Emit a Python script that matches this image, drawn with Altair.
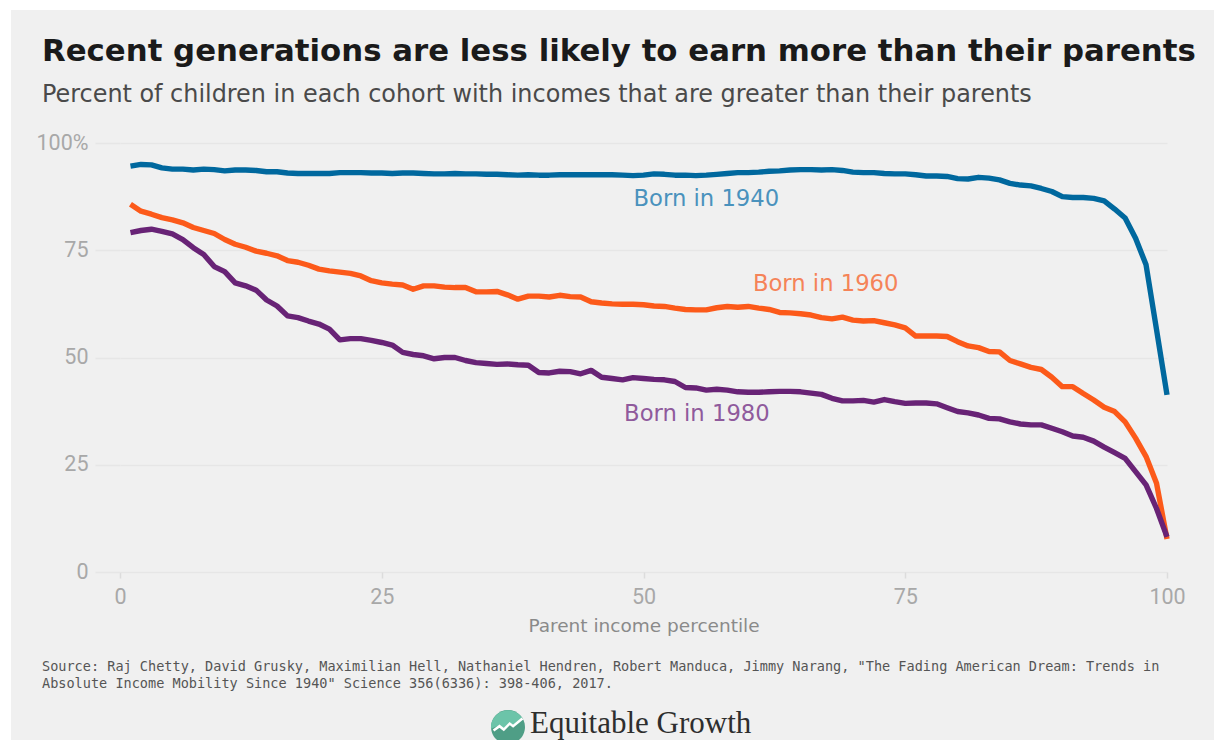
import altair as alt
import pandas as pd

percentile = list(range(1, 101))
born_1940 = [94.6,95.0,94.9,94.2,93.9,93.9,93.7,93.9,93.8,93.5,
 93.7,93.7,93.6,93.3,93.3,93.0,92.9,92.9,92.9,92.9,
 93.1,93.1,93.1,93.0,93.0,92.9,93.0,93.0,92.9,92.8,
 92.8,92.9,92.8,92.8,92.7,92.7,92.6,92.5,92.6,92.5,
 92.5,92.6,92.6,92.6,92.6,92.6,92.6,92.5,92.4,92.5,
 92.8,92.7,92.5,92.5,92.4,92.5,92.7,92.9,93.1,93.1,
 93.2,93.4,93.5,93.7,93.8,93.8,93.7,93.8,93.6,93.2,
 93.1,93.1,92.9,92.8,92.8,92.6,92.3,92.3,92.2,91.7,
 91.6,92.0,91.8,91.4,90.6,90.2,90.0,89.4,88.7,87.5,
 87.3,87.3,87.1,86.5,84.6,82.5,77.8,71.6,56.5,41.3]
born_1960 = [85.7,84.1,83.4,82.6,82.1,81.4,80.3,79.6,78.9,77.5,
 76.4,75.7,74.8,74.3,73.7,72.6,72.2,71.5,70.6,70.2,
 69.9,69.6,69.0,67.9,67.4,67.1,66.9,65.9,66.7,66.7,
 66.4,66.3,66.3,65.3,65.3,65.4,64.6,63.6,64.3,64.3,
 64.1,64.5,64.2,64.1,63.0,62.7,62.5,62.4,62.4,62.3,
 62.0,61.9,61.5,61.2,61.1,61.1,61.6,61.9,61.7,61.9,
 61.5,61.2,60.5,60.4,60.2,59.9,59.3,59.0,59.4,58.7,
 58.5,58.6,58.1,57.6,56.9,55.0,55.0,55.0,54.9,53.7,
 52.7,52.3,51.4,51.3,49.3,48.5,47.7,47.2,45.4,43.2,
 43.2,41.6,40.1,38.4,37.4,35.0,31.2,26.9,20.7,7.7]
born_1980 = [79.1,79.6,79.9,79.4,78.8,77.5,75.6,74.0,71.2,70.0,
 67.4,66.7,65.7,63.4,62.0,59.7,59.3,58.5,57.8,56.6,
 54.1,54.4,54.4,54.0,53.5,52.9,51.2,50.7,50.4,49.7,
 50.0,50.0,49.3,48.8,48.6,48.4,48.5,48.3,48.2,46.5,
 46.4,46.8,46.7,46.2,47.0,45.4,45.1,44.8,45.3,45.1,
 44.9,44.8,44.4,43.0,42.9,42.4,42.6,42.4,42.0,41.9,
 41.9,42.0,42.1,42.1,42.0,41.7,41.4,40.5,39.9,39.9,
 40.0,39.6,40.2,39.7,39.3,39.4,39.4,39.2,38.3,37.4,
 37.1,36.6,35.8,35.7,35.0,34.5,34.3,34.3,33.5,32.7,
 31.7,31.4,30.5,29.1,27.8,26.5,23.4,20.3,14.8,8.2]

cohorts = ["Born in 1940", "Born in 1960", "Born in 1980"]
line_colors = ["#00689e", "#fc5a1a", "#682376"]
text_colors = ["#4a92bd", "#f58358", "#8f5a9c"]
label_x = [56.0, 67.4, 55.1]
label_y = [87.0, 67.2, 36.9]

title_text = "Recent generations are less likely to earn more than their parents"
subtitle_text = "Percent of children in each cohort with incomes that are greater than their parents"
source_1 = 'Source: Raj Chetty, David Grusky, Maximilian Hell, Nathaniel Hendren, Robert Manduca, Jimmy Narang, "The Fading American Dream: Trends in'
source_2 = 'Absolute Income Mobility Since 1940" Science 356(6336): 398-406, 2017.'
logo_text = "Equitable Growth"

W, H = 1047, 429
PAD_L, PAD_T = 112, 135
BG = "#f0f0f0"
GRID = "#e6e6e6"

df = pd.DataFrame({"percentile": percentile * 3,
                   "share": born_1940 + born_1960 + born_1980,
                   "cohort": sum([[c] * 100 for c in cohorts], [])})
labels = pd.DataFrame({"cohort": cohorts, "x": label_x, "y": label_y, "tc": text_colors})

x_scale = alt.Scale(domain=[0, 100], nice=False)
y_scale = alt.Scale(domain=[0, 100], nice=False)
color_scale = alt.Scale(domain=cohorts, range=line_colors)

lines = alt.Chart(df).mark_line(strokeWidth=5.4, strokeJoin="round", strokeCap="butt").encode(
    x=alt.X("percentile:Q", scale=x_scale, title="Parent income percentile",
            axis=alt.Axis(values=[0, 25, 50, 75, 100], grid=False, domain=False, labelFlush=False,
                          tickColor="#dcdcdc", tickSize=6, tickWidth=1.5, labelFont="Roboto",
                          labelFontSize=21.5, labelColor="#a8a8a8", labelPadding=8,
                          titleFont="DejaVu Sans", titleFontSize=18.5, titleFontWeight="normal",
                          titleColor="#8a8a8a", titlePadding=9)),
    y=alt.Y("share:Q", scale=y_scale, title=None,
            axis=alt.Axis(values=[0, 25, 50, 75, 100], grid=True, gridColor=GRID, gridWidth=1.5,
                          domain=False, tickColor=GRID, tickSize=25, tickWidth=1.5, labelFlush=False,
                          labelFont="Roboto", labelFontSize=21.5, labelColor="#a8a8a8", labelPadding=7,
                          labelExpr="datum.value == 100 ? '100%' : datum.label")),
    color=alt.Color("cohort:N", scale=color_scale, legend=None),
    detail="cohort:N",
)

label_marks = alt.Chart(labels).mark_text(font="DejaVu Sans", fontSize=22.7, baseline="middle", align="center").encode(
    x=alt.X("x:Q", scale=x_scale),
    y=alt.Y("y:Q", scale=y_scale),
    text="cohort:N",
    color=alt.Color("tc:N", scale=None, legend=None),
)

def page_text(t, px, py, **kw):
    return alt.Chart(pd.DataFrame({"t": [t]})).mark_text(align="left", baseline="alphabetic", **kw).encode(
        x=alt.value(px - PAD_L - 8), y=alt.value(py - PAD_T - 8), text="t:N")

def page_shape(path, px, py, size, **kw):
    return alt.Chart(pd.DataFrame({"a": [0]})).mark_point(shape=path, size=size, **kw).encode(
        x=alt.value(px - PAD_L - 8), y=alt.value(py - PAD_T - 8))

def white_strip(x1, x2, y1, y2):
    return alt.Chart(pd.DataFrame({"a": [0]})).mark_rect(color="white").encode(
        x=alt.value(x1 - PAD_L - 8), x2=alt.value(x2 - PAD_L - 8),
        y=alt.value(y1 - PAD_T - 8), y2=alt.value(y2 - PAD_T - 8))

strips = white_strip(8, 11, 8, 740) + white_strip(8, 1222, 8, 10)

title = page_text(title_text, 42, 61, font="DejaVu Sans", fontSize=30.8, fontWeight="bold", color="#1a1a1a")
subtitle = page_text(subtitle_text, 42, 102, font="DejaVu Sans", fontSize=23.9, color="#4a4a4a")
src1 = page_text(source_1, 42, 671, font="DejaVu Sans Mono", fontSize=13.55, color="#555555")
src2 = page_text(source_2, 42, 688, font="DejaVu Sans Mono", fontSize=13.55, color="#555555")
logo = page_text(logo_text, 530, 733, font="Liberation Serif", fontSize=31, color="#2e2e2e")

icon_base = page_shape("M-1,0A1,1 0 1,0 1,0A1,1 0 1,0 -1,0Z", 508, 727, 1156,
                       filled=True, fill="#4f9e86", stroke="#4f9e86", strokeWidth=0, opacity=1)
icon_top = page_shape("M-1,0.1 L-0.5,-0.1 L-0.25,0.1 L0.1,-0.25 L0.3,-0.1 L0.85,-0.5 A1,1 0 0,0 -1,0.1Z", 508, 727, 1156,
                      filled=True, fill="#6cc4a9", strokeWidth=0, opacity=1)
icon_line = page_shape("M-0.85,0.2 L-0.5,-0.05 L-0.25,0.15 L0.1,-0.2 L0.3,-0.05 L0.85,-0.5", 508, 727, 1156,
                       filled=False, stroke="white", strokeWidth=2.5, opacity=1)

chart = alt.layer(lines, label_marks, strips, title, subtitle, src1, src2, icon_base, icon_top, icon_line, logo).properties(
    width=W, height=H, background=BG,
    padding={"left": PAD_L, "top": PAD_T, "right": 1206 - PAD_L - W, "bottom": 732 - PAD_T - H},
    autosize=alt.AutoSizeParams(type="none"),
).configure_view(stroke=None)

chart.save("out.html", embed_options={"renderer": "svg", "actions": False})
